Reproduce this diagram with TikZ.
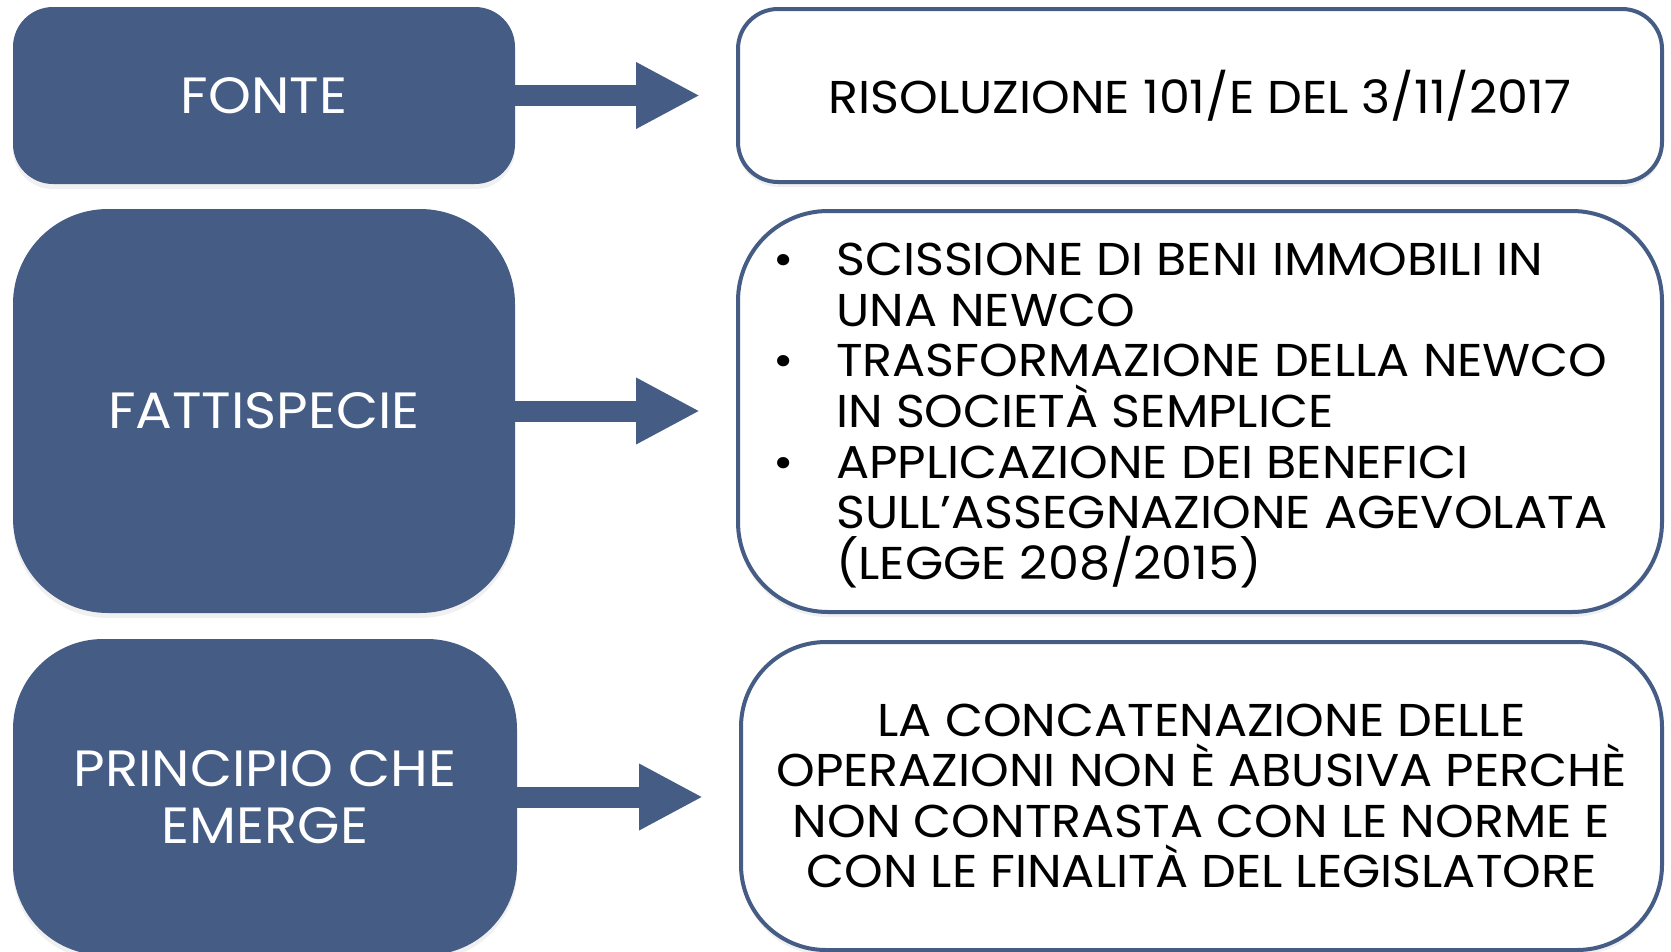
\documentclass[tikz,border=0pt]{standalone}
\usepackage{fontspec}
\setmainfont{Poppins}[FakeStretch=1.07]
\usetikzlibrary{arrows.meta,shadows}
\definecolor{navy}{HTML}{455C85}
\begin{document}
\begin{tikzpicture}[x=1pt,y=-1pt,
  base/.style={rectangle, inner sep=0pt,
    drop shadow={opacity=0.12, shadow xshift=0pt, shadow yshift=-5pt}},
  leftbox/.style={base, fill=navy, text=white, align=center, font=\fontsize{51}{57.5}\selectfont},
  rightbox/.style={base, fill=white, draw=navy, line width=4pt, text=black, align=center, font=\fontsize{46}{50.6}\selectfont},
  listtext/.style={inner sep=0pt, align=left, text=black, font=\fontsize{46}{50.6}\selectfont},
  bigarrow/.style={navy, line width=21pt, -{Triangle[length=64pt,width=62pt]}, shorten >=36pt}
]
\useasboundingbox (0,0) rectangle (1671,951);
% left boxes
\node[leftbox, rounded corners=40pt, minimum width=502pt, minimum height=177pt] (fonte) at (264,95.5) {FONTE};
\node[leftbox, rounded corners=95pt, minimum width=502pt, minimum height=404pt] (fatt) at (264,411) {FATTISPECIE};
\node[leftbox, rounded corners=90pt, minimum width=504pt, minimum height=316pt] (princ) at (265,797) {PRINCIPIO CHE\\EMERGE};
% right boxes
\node[rightbox, rounded corners=40pt, minimum width=924pt, minimum height=173pt] (ris) at (1200,95.5) {RISOLUZIONE 101/E DEL 3/11/2017};
\node[rightbox, rounded corners=90pt, minimum width=924pt, minimum height=401pt] (list) at (1200,411.5) {};
\node[listtext, anchor=west] (listbody) at ([xshift=37pt, yshift=-4pt]list.west) {%
  \makebox[63pt][l]{\textbullet}SCISSIONE DI BENI IMMOBILI IN\\
  \hspace*{63pt}UNA NEWCO\\
  \makebox[63pt][l]{\textbullet}TRASFORMAZIONE DELLA NEWCO\\
  \hspace*{63pt}IN SOCIETÀ SEMPLICE\\
  \makebox[63pt][l]{\textbullet}APPLICAZIONE DEI BENEFICI\\
  \hspace*{63pt}SULL’ASSEGNAZIONE AGEVOLATA\\
  \hspace*{63pt}(LEGGE 208/2015)};
\node[rightbox, rounded corners=85pt, minimum width=921pt, minimum height=308pt] (princtext) at (1201.5,796) {LA CONCATENAZIONE DELLE\\OPERAZIONI NON È ABUSIVA PERCHÈ\\NON CONTRASTA CON LE NORME E\\CON LE FINALITÀ DEL LEGISLATORE};
% arrows
\draw[bigarrow] (fonte.east) -- (fonte.east -| ris.west);
\draw[bigarrow] (fatt.east) -- (fatt.east -| list.west);
\draw[bigarrow] (princ.east) -- (princ.east -| princtext.west);
\end{tikzpicture}
\end{document}
